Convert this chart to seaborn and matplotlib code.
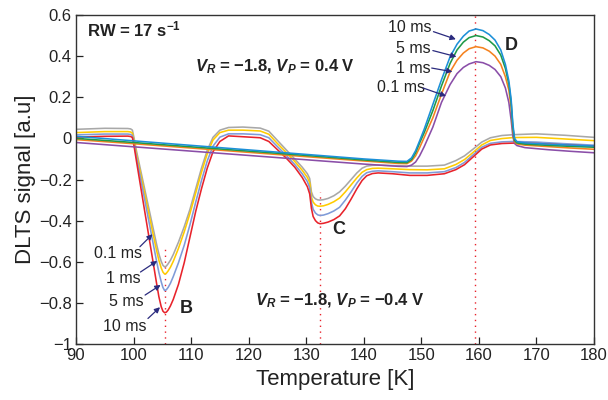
import numpy as np
import pandas as pd
import matplotlib
matplotlib.use("Agg")
import matplotlib.pyplot as plt
import seaborn as sns

# ---- Spectra for V_P = 0.4 V (peak D) ----
temp_a = [90, 100, 110, 120, 130, 140, 146, 147.5, 148.3, 149, 149.7, 150.5, 152, 153.5,
          155, 156.2, 157.3, 158.3, 159.5, 160.7, 161.8, 162.8, 163.8, 164.6, 165.2,
          165.6, 165.9, 166.2, 166.6, 168, 172, 176, 180]
a_10ms = [0.010, -0.012, -0.034, -0.056, -0.078, -0.100, -0.111, -0.112, -0.095, -0.060,
          -0.012, 0.045, 0.165, 0.285, 0.397, 0.458, 0.497, 0.522, 0.532, 0.524, 0.505,
          0.478, 0.430, 0.360, 0.280, 0.190, 0.070, 0.000, -0.016, -0.022, -0.028,
          -0.033, -0.037]
a_5ms = [0.000, -0.020, -0.041, -0.062, -0.083, -0.105, -0.117, -0.118, -0.103, -0.070,
         -0.022, 0.028, 0.135, 0.255, 0.365, 0.430, 0.468, 0.490, 0.500, 0.493, 0.475,
         0.450, 0.405, 0.340, 0.265, 0.175, 0.055, -0.010, -0.022, -0.028, -0.034,
         -0.039, -0.043]
a_1ms = [-0.006, -0.026, -0.047, -0.068, -0.089, -0.110, -0.122, -0.123, -0.110, -0.085,
         -0.045, 0.005, 0.100, 0.215, 0.324, 0.380, 0.415, 0.436, 0.446, 0.440, 0.424,
         0.400, 0.360, 0.300, 0.235, 0.150, 0.040, -0.015, -0.027, -0.033, -0.040,
         -0.047, -0.053]
a_01ms = [-0.020, -0.041, -0.062, -0.083, -0.104, -0.125, -0.136, -0.137, -0.130, -0.115,
          -0.085, -0.040, 0.055, 0.175, 0.262, 0.315, 0.345, 0.362, 0.373, 0.368, 0.355,
          0.335, 0.300, 0.245, 0.175, 0.090, 0.010, -0.025, -0.035, -0.045, -0.055,
          -0.063, -0.070]

# ---- Spectra for V_P = -0.4 V (peaks B and C) ----
temp_b = [90, 95, 99, 99.5, 99.8, 100.1, 100.5,
          101.5, 102.5, 103.5, 104.0, 104.4, 104.8, 105.1, 105.4, 105.7, 106.0, 106.4, 106.9, 107.8,
          108.8, 109.8, 110.8, 111.8, 112.8, 113.8, 115, 116.5, 119, 122,
          123.5, 125, 126.5, 128, 129.3, 130.2, 130.6, 130.9, 131.2, 131.6, 132.0, 132.4,
          133.0, 133.8, 134.8, 135.8, 136.8, 137.8, 138.8, 139.7, 140.5, 141.5, 142.5,
          145, 148, 151, 154, 156, 157.5, 159, 160.5, 162, 164, 166, 170, 175, 180]
b_01ms = [0.044, 0.049, 0.048, 0.046, 0.040, 0.000, -0.060,
          -0.190, -0.320, -0.450, -0.515, -0.562, -0.598, -0.617, -0.625, -0.621, -0.610, -0.593, -0.565, -0.505,
          -0.430, -0.345, -0.245, -0.145, -0.058, 0.005, 0.040, 0.053, 0.055, 0.050,
          0.035, -0.010, -0.055, -0.100, -0.140, -0.172, -0.195, -0.260, -0.283, -0.294, -0.299, -0.300,
          -0.298, -0.292, -0.279, -0.260, -0.232, -0.200, -0.168, -0.145, -0.135, -0.131, -0.130,
          -0.132, -0.135, -0.135, -0.130, -0.108, -0.085, -0.052, -0.018, 0.003, 0.014, 0.018, 0.022, 0.015, 0.005]
b_1ms = [0.028, 0.033, 0.033, 0.031, 0.025, -0.015, -0.075,
         -0.210, -0.345, -0.480, -0.545, -0.593, -0.630, -0.650, -0.660, -0.656, -0.645, -0.627, -0.598, -0.535,
         -0.455, -0.365, -0.265, -0.165, -0.075, -0.008, 0.028, 0.040, 0.040, 0.036,
         0.020, -0.025, -0.068, -0.112, -0.155, -0.190, -0.215, -0.285, -0.310, -0.323, -0.329, -0.330,
         -0.328, -0.321, -0.308, -0.290, -0.260, -0.226, -0.192, -0.165, -0.152, -0.146, -0.145,
         -0.148, -0.152, -0.153, -0.148, -0.127, -0.103, -0.068, -0.032, -0.010, -0.001, 0.004, 0.005, -0.003, -0.011]
b_5ms = [0.017, 0.021, 0.021, 0.019, 0.014, -0.028, -0.090,
         -0.235, -0.380, -0.525, -0.597, -0.652, -0.697, -0.725, -0.740, -0.736, -0.725, -0.705, -0.672, -0.605,
         -0.520, -0.420, -0.310, -0.205, -0.110, -0.038, 0.006, 0.022, 0.022, 0.018,
         0.003, -0.040, -0.082, -0.127, -0.172, -0.210, -0.240, -0.310, -0.345, -0.363, -0.372, -0.375,
         -0.373, -0.366, -0.353, -0.335, -0.300, -0.260, -0.217, -0.185, -0.167, -0.160, -0.158,
         -0.162, -0.168, -0.168, -0.162, -0.142, -0.117, -0.080, -0.043, -0.024, -0.017, -0.015, -0.018, -0.026, -0.033]
b_10ms = [0.006, 0.010, 0.011, 0.009, 0.004, -0.040, -0.110,
          -0.280, -0.450, -0.620, -0.705, -0.770, -0.818, -0.840, -0.848, -0.845, -0.835, -0.815, -0.783, -0.710,
          -0.605, -0.480, -0.355, -0.245, -0.145, -0.065, -0.015, 0.012, 0.008, 0.003,
          -0.015, -0.055, -0.095, -0.140, -0.190, -0.235, -0.270, -0.340, -0.380, -0.400, -0.411, -0.415,
          -0.413, -0.407, -0.395, -0.377, -0.342, -0.295, -0.245, -0.205, -0.182, -0.171, -0.168,
          -0.172, -0.180, -0.180, -0.172, -0.152, -0.128, -0.090, -0.052, -0.032, -0.025, -0.023, -0.025, -0.032, -0.038]

# Peak positions marked with dotted lines
peak_temps = [105.4, 132.4, 159.4]
peak_tops = [-0.53, -0.26, 0.6]

x_ticks = [90, 100, 110, 120, 130, 140, 150, 160, 170, 180]
y_ticks = [-1, -0.8, -0.6, -0.4, -0.2, 0, 0.2, 0.4, 0.6]
y_tick_labels = ["\u22121", "\u22120.8", "\u22120.6", "\u22120.4", "\u22120.2",
                 "0", "0.2", "0.4", "0.6"]

curves = [
    ("b 0.1 ms", temp_b, b_01ms, "#a8a8a8"),
    ("b 1 ms", temp_b, b_1ms, "#ffcc00"),
    ("b 5 ms", temp_b, b_5ms, "#7f9bd8"),
    ("b 10 ms", temp_b, b_10ms, "#e8232b"),
    ("a 0.1 ms", temp_a, a_01ms, "#8a4ea8"),
    ("a 1 ms", temp_a, a_1ms, "#f5821f"),
    ("a 5 ms", temp_a, a_5ms, "#1f9a48"),
    ("a 10 ms", temp_a, a_10ms, "#1c90d8"),
]

frames = [pd.DataFrame({"T": t, "signal": v, "curve": name}) for name, t, v, _ in curves]
df = pd.concat(frames, ignore_index=True)
palette = {name: c for name, _, _, c in curves}

sns.set_style("ticks", {"xtick.direction": "in", "ytick.direction": "in"})
plt.rcParams["font.family"] = ["Liberation Sans", "DejaVu Sans"]
plt.rcParams["mathtext.fontset"] = "custom"
plt.rcParams["mathtext.rm"] = "Liberation Sans:bold"
plt.rcParams["mathtext.bf"] = "Liberation Sans:bold"
plt.rcParams["mathtext.it"] = "Liberation Sans:italic:bold"

fig = plt.figure(figsize=(6.08, 4.0), dpi=100)
ax = fig.add_axes([0.125, 0.14, 0.852, 0.8225])

txt = "#222222"
sns.lineplot(data=df, x="T", y="signal", hue="curve", palette=palette,
             hue_order=[c[0] for c in curves], estimator=None, legend=False,
             linewidth=1.15, ax=ax)

for xp, top in zip(peak_temps, peak_tops):
    ax.plot([xp, xp], [-1, top], color="#e8232b", lw=1.0,
            linestyle=(0, (1, 3.2)), zorder=1)

ax.set_xlim(90, 180)
ax.set_ylim(-1, 0.6)
ax.set_xticks(x_ticks)
ax.set_xticklabels([str(t) for t in x_ticks])
ax.set_yticks(y_ticks)
ax.set_yticklabels(y_tick_labels)
ax.tick_params(axis="both", labelsize=12, colors=txt, length=5, width=0.9,
               top=False, right=False, pad=3)
for s in ax.spines.values():
    s.set_color("#333333")
    s.set_linewidth(1.0)
    s.set_visible(True)

ax.set_xlabel("Temperature [K]", fontsize=16, color=txt, labelpad=4)
ax.set_ylabel("DLTS signal [a.u]", fontsize=16, color=txt, labelpad=2)

# Annotations
ax.text(0.021, 0.955, "RW = 17 s$^{-1}$", transform=ax.transAxes, fontsize=12,
        fontweight="bold", color=txt, va="center", ha="left")
ax.text(110.7, 0.347, "$V_R$ = \u22121.8, $V_P$ = 0.4 V", fontsize=12,
        fontweight="bold", color=txt, va="center", ha="left")
ax.text(121.1, -0.79, "$V_R$ = \u22121.8, $V_P$ = \u22120.4 V", fontsize=12,
        fontweight="bold", color=txt, va="center", ha="left")
for lab, xx, yy in [("B", 109.2, -0.826), ("C", 135.6, -0.445), ("D", 165.7, 0.454)]:
    ax.text(xx, yy, lab, fontsize=13, fontweight="bold", color=txt,
            ha="center", va="center")

arrow_col = "#2b2b7e"
arrow_kw = dict(arrowstyle="-|>", color=arrow_col, lw=0.9, mutation_scale=8,
                shrinkA=0, shrinkB=0)
d_labels = [("10 ms", (151.8, 0.537), (152.1, 0.519), (156.0, 0.482)),
            ("5 ms", (151.6, 0.438), (152.0, 0.427), (156.1, 0.397)),
            ("1 ms", (151.6, 0.341), (151.8, 0.342), (155.4, 0.324)),
            ("0.1 ms", (150.6, 0.249), (150.3, 0.245), (154.3, 0.206))]
b_labels = [("0.1 ms", (101.4, -0.559), (101.1, -0.527), (103.3, -0.466)),
            ("1 ms", (101.2, -0.680), (101.2, -0.650), (104.1, -0.596)),
            ("5 ms", (101.7, -0.794), (102.0, -0.762), (104.7, -0.713)),
            ("10 ms", (102.2, -0.916), (102.5, -0.876), (104.6, -0.821))]
for lab, tpos, a0, a1 in d_labels + b_labels:
    ax.text(tpos[0], tpos[1], lab, fontsize=11.5, color=txt, ha="right", va="center")
    ax.annotate("", xy=a1, xytext=a0, arrowprops=arrow_kw)

fig.savefig("out.png", dpi=100)
